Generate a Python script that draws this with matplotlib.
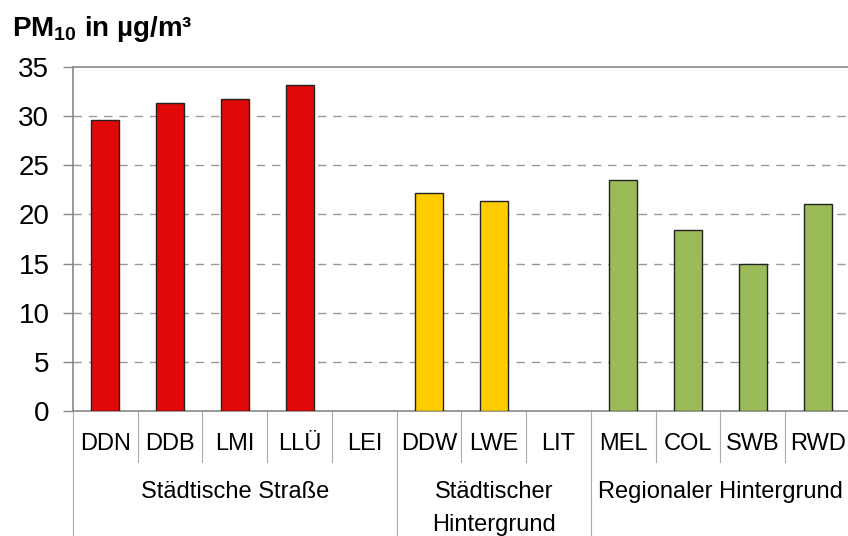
import matplotlib
matplotlib.use("Agg")
import matplotlib.pyplot as plt
from matplotlib.lines import Line2D

plt.rcParams['font.family'] = ['Liberation Sans', 'DejaVu Sans']
plt.rcParams['mathtext.fontset'] = 'custom'
plt.rcParams['mathtext.rm'] = 'Liberation Sans'
plt.rcParams['mathtext.bf'] = 'Liberation Sans:bold'

stations = ["DDN", "DDB", "LMI", "LLÜ", "LEI", "DDW", "LWE", "LIT", "MEL", "COL", "SWB", "RWD"]
values = [29.6, 31.3, 31.7, 33.2, None, 22.2, 21.4, None, 23.5, 18.4, 15.0, 21.1]
groups = ["Städtische Straße", "Städtischer\nHintergrund", "Regionaler Hintergrund"]
group_sizes = [5, 3, 4]
group_colors = ["#E00808", "#FFCC00", "#9BBB59"]
yticks = [0, 5, 10, 15, 20, 25, 30, 35]

W, H = 848, 536
fig = plt.figure(figsize=(W / 100, H / 100), dpi=100)
x0, x1, ytop, ybot = 73, 850, 67, 411
ax = fig.add_axes([x0 / W, 1 - ybot / H, (x1 - x0) / W, (ybot - ytop) / H])

colors = []
for c, n in zip(group_colors, group_sizes):
    colors += [c] * n

for i, (v, c) in enumerate(zip(values, colors)):
    if v is not None:
        ax.bar(i, v, width=0.43, color=c, edgecolor="#222222", linewidth=1.0, zorder=3)

ax.set_xlim(-0.5, len(stations) - 0.5)
ax.set_ylim(0, 35)
ax.set_yticks(yticks)
ax.set_yticklabels([str(t) for t in yticks], fontsize=20)
ax.tick_params(axis='y', length=7, width=1, color="#888888", pad=10)
ax.set_xticks([])
for t in yticks[1:-1]:
    ax.axhline(t, color="#999999", linewidth=1, dashes=(6, 5), zorder=1)

ax.spines["right"].set_visible(False)
for s in ["top", "left", "bottom"]:
    ax.spines[s].set_color("#888888")
    ax.spines[s].set_linewidth(1.2)

tr = ax.get_xaxis_transform()
ph = ybot - ytop
def fy(pix):
    return -(pix - ybot) / ph

for i, s in enumerate(stations):
    ax.text(i, fy(444), s, transform=tr, ha="center", va="center", fontsize=17)

# separators
start = 0
bounds = [0]
for n in group_sizes:
    start += n
    bounds.append(start)
for b in range(1, len(stations)):
    if b in bounds:
        continue
    ax.add_line(Line2D([b - 0.5, b - 0.5], [0, fy(462)], transform=tr,
                       color="#AAAAAA", linewidth=0.8, clip_on=False))
for b in bounds[:-1]:
    ax.add_line(Line2D([b - 0.5, b - 0.5], [0, fy(545)], transform=tr,
                       color="#AAAAAA", linewidth=0.8, clip_on=False))

for g, n, b in zip(groups, group_sizes, bounds[:-1]):
    cx = b + n / 2 - 0.5
    for k, line in enumerate(g.split("\n")):
        ax.text(cx, fy(492 + 33 * k), line, transform=tr, ha="center", va="center",
                fontsize=17)

fig.text(12 / W, 1 - 29 / H, r"PM$_{\mathbf{10}}$ in µg/m³", fontsize=20,
         fontweight="bold", ha="left", va="center")

fig.savefig("out.png", dpi=100)
